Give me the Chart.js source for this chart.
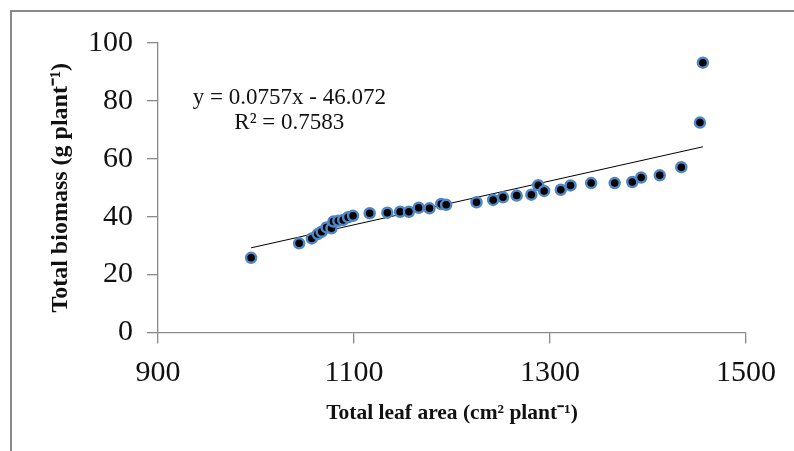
<!DOCTYPE html>
<html>
<head>
<meta charset="utf-8">
<script src="https://cdn.jsdelivr.net/npm/chart.js@4"></script>
<style>
    body { margin: 0; background: #fff; }
    #wrap { position: relative; width: 794px; height: 451px; overflow: hidden; }
    #frame {
        position: absolute; left: 10px; top: 10px; width: 900px; height: 600px;
        border-top: 2px solid #8a8a8a; border-left: 2px solid #8a8a8a;
    }
    canvas { position: absolute; left: 0; top: 0; }
</style>
</head>
<body>
<div id="wrap">
    <div id="frame"></div>
    <canvas id="biomassChart" width="794" height="451"></canvas>
</div>
<script>
/* Data */
const leafArea = [995, 1044, 1057, 1063, 1067, 1072, 1077, 1079, 1084, 1089, 1094, 1099,
    1116, 1134, 1147, 1156, 1166, 1177, 1189, 1194, 1225, 1242, 1252, 1266, 1281, 1288,
    1294, 1311, 1321, 1342, 1366, 1384, 1393, 1412, 1434, 1453, 1456];
const biomass = [25.8, 30.8, 32.5, 34.0, 34.8, 36.3, 36.0, 38.3, 38.6, 38.9, 39.8, 40.3,
    41.2, 41.4, 41.7, 41.7, 43.1, 42.9, 44.4, 44.1, 45.0, 45.8, 46.7, 47.3, 47.6, 50.9,
    48.9, 49.3, 50.8, 51.6, 51.6, 52.0, 53.5, 54.3, 57.1, 72.5, 93.2];
const xTicks = [900, 1100, 1300, 1500];
const yTicks = [0, 20, 40, 60, 80, 100];
const slope = 0.0757;
const intercept = -46.072;
const equationLines = ["y = 0.0757x - 46.072", "R\u00B2 = 0.7583"];

const serif = "'Liberation Serif', 'Times New Roman', serif";
const axisColor = "#8a8a8a";

const points = leafArea.map((x, i) => ({ x: x, y: biomass[i] }));
const xMin = Math.min(...leafArea);
const xMax = Math.max(...leafArea);
const trend = [xMin, xMax].map(x => ({ x: x, y: slope * x + intercept }));

/* Equation label, anchored in data units */
const equationPlugin = {
    id: "equation",
    afterDatasetsDraw(chart) {
        const ctx = chart.ctx;
        const sx = chart.scales.x, sy = chart.scales.y;
        ctx.save();
        ctx.font = "23px " + serif;
        ctx.fillStyle = "#111";
        ctx.textAlign = "center";
        ctx.textBaseline = "middle";
        ctx.fillText(equationLines[0], sx.getPixelForValue(1034), sy.getPixelForValue(81));
        ctx.fillText(equationLines[1], sx.getPixelForValue(1034), sy.getPixelForValue(72.4));
        ctx.restore();
    }
};

const gridOpts = {
    display: true,
    drawOnChartArea: false,
    drawTicks: true,
    tickLength: 11,
    color: axisColor,
    lineWidth: 1.3
};

new Chart(document.getElementById("biomassChart"), {
    type: "scatter",
    data: {
        datasets: [{
            label: "Biomass",
            data: points,
            backgroundColor: "#000",
            borderColor: "#4f86c6",
            borderWidth: 2.5,
            pointRadius: 5,
            order: 1
        }, {
            type: "line",
            label: "Linear",
            data: trend,
            borderColor: "#000",
            borderWidth: 1,
            pointRadius: 0,
            fill: false,
            order: 2
        }]
    },
    options: {
        responsive: false,
        animation: false,
        layout: { padding: { left: 38, top: 43, right: 48, bottom: 20 } },
        plugins: {
            legend: { display: false },
            tooltip: { enabled: false }
        },
        scales: {
            x: {
                type: "linear",
                min: xTicks[0],
                max: xTicks[xTicks.length - 1],
                afterBuildTicks: s => { s.ticks = xTicks.map(v => ({ value: v })); },
                afterFit: s => { s.height = 451 - 20 - 332.5; },
                grid: gridOpts,
                border: { color: axisColor, width: 1.3 },
                ticks: {
                    color: "#111", font: { family: serif, size: 30 }, padding: 12, maxRotation: 0,
                    callback: v => String(v)
                },
                title: {
                    display: true,
                    text: "Total leaf area (cm\u00B2 plant\u207B\u00B9)",
                    color: "#111",
                    font: { family: serif, size: 21.5, weight: "bold" },
                    padding: { top: 0, bottom: 5 }
                }
            },
            y: {
                min: yTicks[0],
                max: yTicks[yTicks.length - 1],
                afterBuildTicks: s => { s.ticks = yTicks.map(v => ({ value: v })); },
                afterFit: s => { s.width = 158 - 38; },
                grid: gridOpts,
                border: { color: axisColor, width: 1.3 },
                ticks: {
                    color: "#111", font: { family: serif, size: 30 }, padding: 14,
                    callback: v => String(v)
                },
                title: {
                    display: true,
                    text: "Total biomass (g plant\u207B\u00B9)",
                    color: "#111",
                    font: { family: serif, size: 24, weight: "bold" },
                    padding: { top: 8, bottom: 0 }
                }
            }
        }
    },
    plugins: [equationPlugin]
});
</script>
</body>
</html>
